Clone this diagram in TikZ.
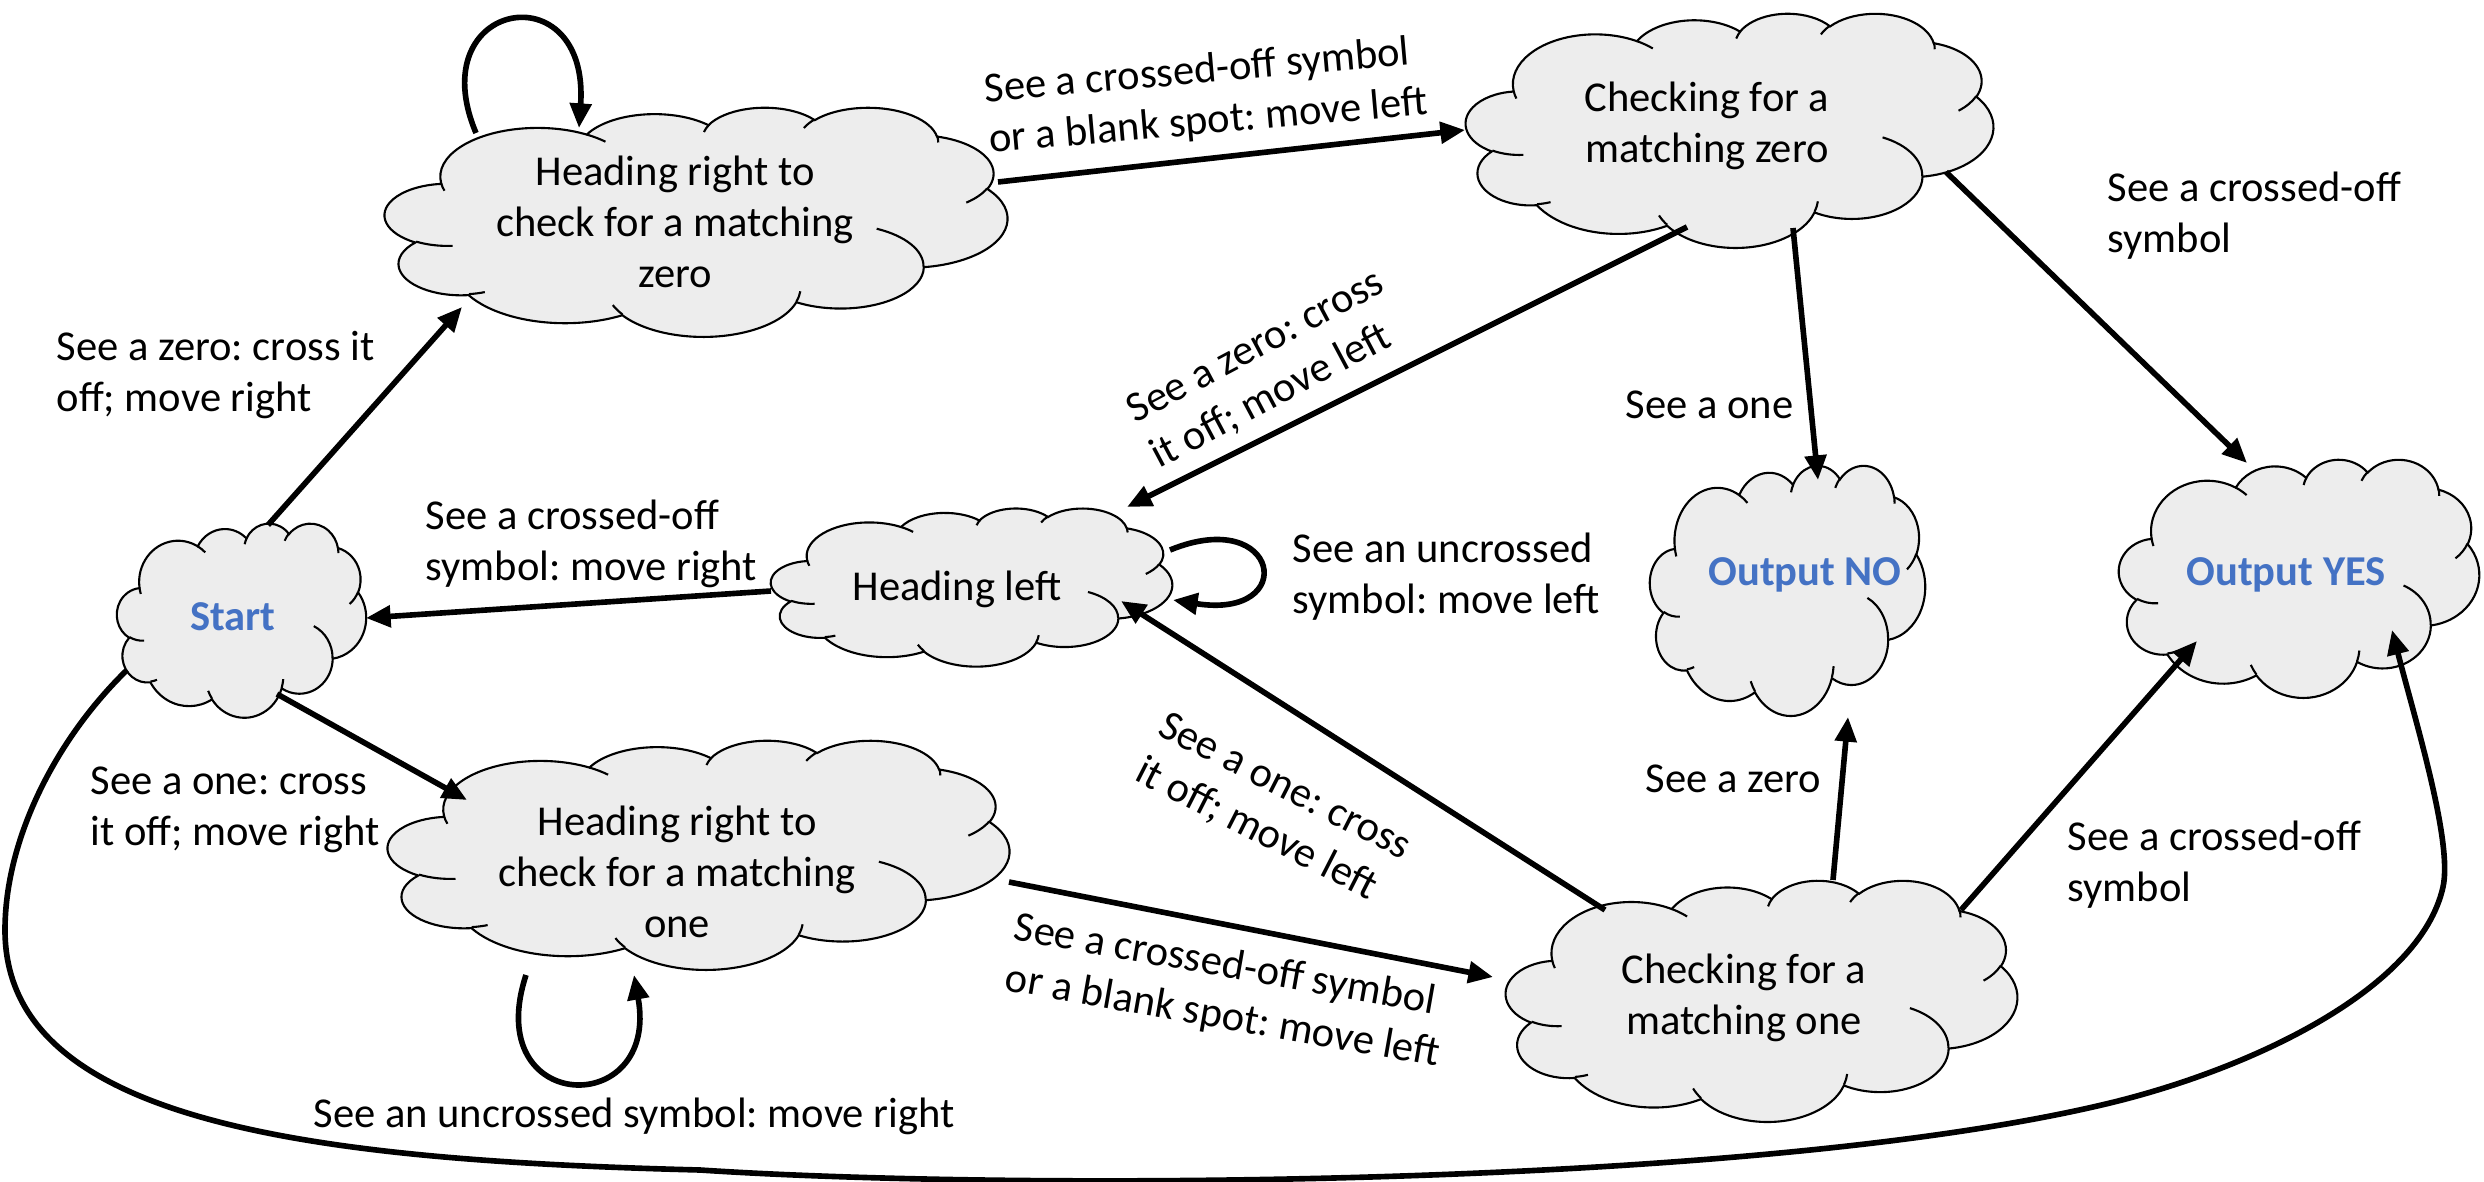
\documentclass[tikz,border=0pt]{standalone}
\usepackage{fontspec}
\setmainfont{Carlito}
\usetikzlibrary{arrows.meta,calc}
\definecolor{cloudgray}{RGB}{237,237,237}
\definecolor{titleblue}{RGB}{68,114,196}
\frenchspacing
\tikzset{
  cnode/.style={inner sep=0pt, align=center},
  title/.style={cnode, text=titleblue, font=\fontsize{12.1pt}{14.5pt}\selectfont\bfseries},
  lbl/.style={inner sep=0pt, align=left},
  arr/.style={line width=1.6pt, -{Triangle[length=7pt,width=6pt]}},
  cloudline/.style={line width=0.6pt},
}
% cloud in the box (x0,y0,w,h), pixel units, y down
\newcommand\drawcloud[4]{%
  \pgfmathsetmacro\cloudux{#3/432*0.2845276}%
  \pgfmathsetmacro\clouduy{#4/432*0.2845276}%
  \begin{scope}[shift={(#1,#2)}, x=\cloudux pt, y=-\clouduy pt]
    \filldraw[fill=cloudgray, draw=black, cloudline] (39.00,143.70)
      arc[start angle=-187.745, end angle=-59.66, x radius=67.53, y radius=91.90]
      arc[start angle=-152.02, end angle=-45.45, x radius=53.33, y radius=72.67]
      arc[start angle=-153.49, end angle=-37.33, x radius=43.65, y radius=59.45]
      arc[start angle=-139.72, end angle=-10.21, x radius=48.57, y radius=65.95]
      arc[start angle=-74.77, end angle=23.21, x radius=53.33, y radius=72.73]
      arc[start angle=-37.52, end angle=81.86, x radius=67.75, y radius=92.20]
      arc[start angle=0.46, end angle=121.98, x radius=57.85, y radius=78.67]
      arc[start angle=16.84, end angle=146.24, x radius=67.52, y radius=92.15]
      arc[start angle=58.99, end angle=150.18, x radius=77.20, y radius=105.43]
      arc[start angle=-276.70, end angle=-136.90, x radius=43.60, y radius=59.18]
      arc[start angle=-239.65, end angle=-95.89, x radius=43.45, y radius=59.45]
      -- cycle;
    \draw[cloudline]
      (46.93,261.77) arc[start angle=85.55, end angle=120.35, x radius=43.45, y radius=59.45]
      (69.28,348.99) arc[start angle=68.24, end angle=83.30, x radius=43.60, y radius=59.18]
      (164.78,390.90) arc[start angle=146.24, end angle=158.47, x radius=67.52, y radius=92.15]
      (288.27,347.51) arc[start angle=4.74, end angle=16.84, x radius=67.52, y radius=92.15]
      (341.29,229.54) arc[start angle=-64.02, end angle=0.46, x radius=57.85, y radius=78.67]
      (417.98,153.54) arc[start angle=23.21, end angle=49.64, x radius=53.33, y radius=72.73]
      (383.24,54.26) arc[start angle=-10.21, end angle=0.82, x radius=48.57, y radius=65.95]
      (290.78,39.52) arc[start angle=-156.29, end angle=-139.72, x radius=48.57, y radius=65.95]
      (221.41,47.20) arc[start angle=-167.73, end angle=-153.49, x radius=43.65, y radius=59.45]
      (140.00,51.92) arc[start angle=-59.66, end angle=-45.73, x radius=67.53, y radius=91.90]
      (41.27,157.89) arc[start angle=163.19, end angle=172.26, x radius=67.53, y radius=91.90];
  \end{scope}}
\begin{document}
\begin{tikzpicture}[x=0.01cm, y=-0.01cm, font=\fontsize{12.1pt}{14.5pt}\selectfont]
\useasboundingbox (0,0) rectangle (2484,1182);

% clouds
\drawcloud{117}{523}{249}{194}
\drawcloud{385}{107}{622}{229}
\drawcloud{1466}{13}{527}{234}
\drawcloud{771}{508}{401}{158}
\drawcloud{1650}{465}{275}{250}
\drawcloud{2119}{459}{360}{238}
\drawcloud{388}{740}{621}{229}
\drawcloud{1506}{880}{511}{241}

% states
\node[title] (start) at (233,617) {Start};
\node[cnode] (hrz) at (675,222) {Heading right to\\check for a matching\\zero};
\node[cnode] (cz) at (1707,126) {Checking for a\\matching zero};
\node[cnode] (hl) at (957,589) {Heading left};
\node[title] (no) at (1805,575) {Output NO};
\node[title] (yes) at (2286,575) {Output YES};
\node[cnode] (hro) at (677,872) {Heading right to\\check for a matching\\one};
\node[cnode] (co) at (1744,998) {Checking for a\\matching one};

% labels
\node[lbl, anchor=west] (l1) at (56,375) {See a zero: cross it\\off; move right};
\node[lbl, anchor=west] (l2) at (425,544) {See a crossed-off\\symbol: move right};
\node[lbl, anchor=west] (l3) at (90,810) {See a one: cross\\it off; move right};
\node[lbl, anchor=base west] (l4) at (313,1127) {See an uncrossed symbol: move right};
\node[lbl, anchor=west] (l5) at (1292,577) {See an uncrossed\\symbol: move left};
\node[lbl, rotate=5] (l6) at (1206,97) {See a crossed-off symbol\\or a blank spot: move left};
\node[lbl, rotate=28] (l7) at (1268,370) {See a zero: cross\\it off; move left};
\node[lbl, rotate=-27] (l8) at (1273,810) {See a one: cross\\it off; move left};
\node[lbl, rotate=-10] (l9) at (1227,992) {See a crossed-off symbol\\or a blank spot: move left};
\node[lbl, anchor=west] (l10) at (2107,216) {See a crossed-off\\symbol};
\node[lbl, anchor=base west] (l11) at (1625,418) {See a one};
\node[lbl, anchor=base west] (l12) at (1645,792) {See a zero};
\node[lbl, anchor=west] (l13) at (2067,865) {See a crossed-off\\symbol};

% transitions
\draw[arr] ($(start)+(35,-92)$) -- ($(hrz)+(-213,85)$);
\draw[arr] ($(hl)+(-186,2)$) -- ($(start)+(133,1)$);
\draw[arr] ($(start)+(44,77)$) -- ($(hro)+(-210,-72)$);
\draw[arr] ($(hrz)+(323,-40)$) -- ($(cz)+(-242,4)$);
\draw[arr] ($(cz)+(-20,101)$) -- ($(hl)+(170,-82)$);
\draw[arr] ($(cz)+(86,102)$) -- ($(no)+(13,-95)$);
\draw[arr] ($(cz)+(239,46)$) -- ($(yes)+(-39,-112)$);
\draw[arr] ($(co)+(-139,-88)$) -- ($(hl)+(164,12)$);
\draw[arr] ($(hro)+(332,10)$) -- ($(co)+(-251,-21)$);
\draw[arr] ($(co)+(89,-118)$) -- ($(no)+(43,142)$);
\draw[arr] ($(co)+(217,-88)$) -- ($(yes)+(-89,66)$);
% self loops
\draw[arr] ($(hrz)+(-199,-89)$) .. controls +(-56,-133) and +(11,-158) .. ($(hrz)+(-96,-94)$);
\draw[arr] ($(hl)+(213,-39)$) .. controls +(110,-45) and +(127,20) .. ($(hl)+(216,11)$);
\draw[arr] ($(hro)+(-151,103)$) .. controls +(-46,140) and +(26,145) .. ($(hro)+(-43,103)$);
% long curve
\draw[arr] ($(start)+(-106,53)$) .. controls (55,740) and (5,840) .. (5,930)
  .. controls (5,1120) and (300,1160) .. (700,1170)
  .. controls (1000,1190) and (1750,1190) .. (2110,1103)
  .. controls (2250,1069) and (2420,990) .. (2443,887)
  .. controls (2453,842) and (2415,720) .. ($(yes)+(106,55)$);
\end{tikzpicture}
\end{document}
